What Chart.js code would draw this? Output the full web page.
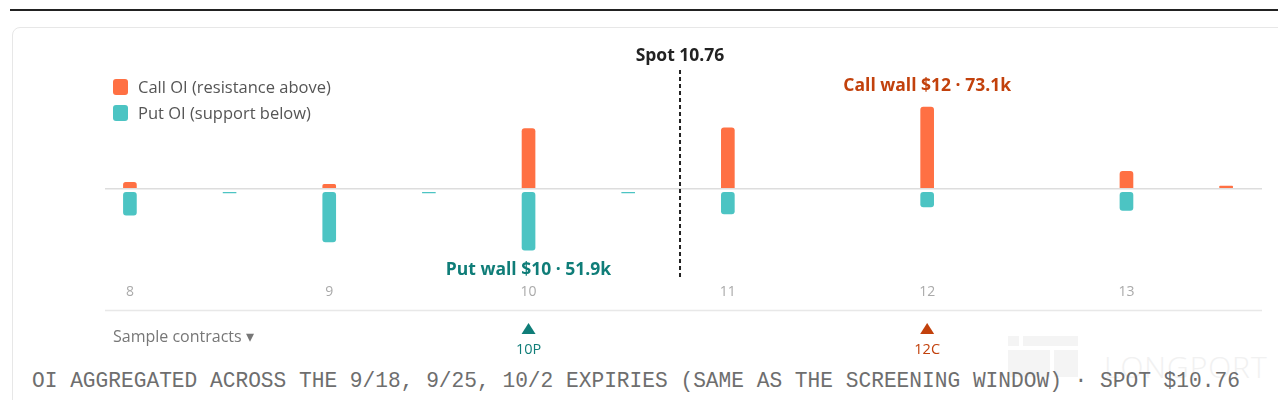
<!DOCTYPE html>
<html>
<head>
<meta charset="utf-8">
<script src="https://cdn.jsdelivr.net/npm/chart.js@4.4.1/dist/chart.umd.min.js"></script>
<style>
  html, body { margin: 0; padding: 0; background: #fff; }
  body { width: 1278px; height: 400px; position: relative; overflow: hidden; font-family: "Open Sans", Lato, sans-serif; }
  .topline { position: absolute; left: 10px; right: 0; top: 9px; height: 2px; background: #222; }
  .card { position: absolute; left: 12px; top: 27px; width: 1300px; height: 420px; border: 1px solid #e7e7e7; border-radius: 8px; box-sizing: border-box; }
  .wm { position: absolute; background: #f4f4f4; }
  .wm-text { position: absolute; left: 1104px; top: 346px; font-size: 30px; font-weight: 300; color: #f1f1f1; letter-spacing: 1px; }
  #wrap { position: absolute; left: 0; top: 0; width: 1278px; height: 365px; }
  .legend { position: absolute; left: 113px; top: 73.5px; font-size: 16.5px; color: #555; }
  .legend div { height: 26px; line-height: 20px; display: flex; align-items: center; }
  .legend span.sw { display: inline-block; width: 15px; height: 16px; border-radius: 3px; margin-right: 10px; }
  .footer { position: absolute; left: 32px; top: 369px; font-family: "Liberation Mono", monospace; font-size: 21.2px; line-height: 24px; color: #6e6e6e; white-space: nowrap; }
</style>
</head>
<body>
<div class="topline"></div>
<div class="card"></div>
<div class="wm" style="left:1008px;top:336px;width:11px;height:10px"></div>
<div class="wm" style="left:1023px;top:336px;width:55px;height:10px"></div>
<div class="wm" style="left:1008px;top:350px;width:42px;height:27px"></div>
<div class="wm" style="left:1054px;top:350px;width:24px;height:27px"></div>
<div class="wm-text">LONGPORT</div>
<div id="wrap"><canvas id="oiChart" width="1278" height="365"></canvas></div>
<div class="legend">
  <div><span class="sw" style="background:#ff7043"></span>Call OI (resistance above)</div>
  <div><span class="sw" style="background:#4cc4c3"></span>Put OI (support below)</div>
</div>
<div class="footer">OI AGGREGATED ACROSS THE 9/18, 9/25, 10/2 EXPIRIES (SAME AS THE SCREENING WINDOW) · SPOT $10.76</div>

<script>
// strikes and open interest (thousands of contracts)
const strikes = [8, 8.5, 9, 9.5, 10, 10.5, 11, 11.5, 12, 12.5, 13, 13.5];
const callOI = [5.4, 0, 3.6, 0, 53.7, 0, 54.3, 0, 73.1, 0, 15.3, 2.1];
const putOI = [20.3, 0.4, 44.4, 0.4, 51.9, 0.4, 19.2, 0, 13.1, 0, 16.2, 0];
const xTicks = [8, 9, 10, 11, 12, 13];
const SPOT = 10.76;
const sampleStrikes = [10, 12];
const sampleLabels = ['10P', '12C'];
const sampleSides = ['put', 'call'];

const CALL_COLOR = '#ff7043';
const PUT_COLOR = '#4cc4c3';
const CALL_TEXT = '#c2410c';
const PUT_TEXT = '#0f7d78';
const PUT_GAP = 3.6; // small gap under the zero line for puts
const FONT = '"Open Sans"';

const maxIdx = arr => arr.indexOf(Math.max(...arr));
const callWall = maxIdx(callOI);
const putWall = maxIdx(putOI);

const annotations = {
  id: 'annotations',
  afterDatasetsDraw(chart) {
    const { ctx, chartArea, scales: { x } } = chart;
    ctx.save();

    // spot line
    const sx = x.getPixelForValue(SPOT);
    ctx.strokeStyle = '#222';
    ctx.lineWidth = 2;
    ctx.setLineDash([4, 3]);
    ctx.beginPath();
    ctx.moveTo(sx, 70);
    ctx.lineTo(sx, 278);
    ctx.stroke();
    ctx.setLineDash([]);

    ctx.textAlign = 'center';
    ctx.textBaseline = 'middle';
    ctx.font = 'bold 17.5px ' + FONT;
    ctx.fillStyle = '#222';
    ctx.fillText('Spot ' + SPOT, sx, 56);

    ctx.fillStyle = CALL_TEXT;
    ctx.fillText('Call wall $' + strikes[callWall] + ' · ' + callOI[callWall] + 'k',
      x.getPixelForValue(strikes[callWall]), 86);
    ctx.fillStyle = PUT_TEXT;
    ctx.fillText('Put wall $' + strikes[putWall] + ' · ' + putOI[putWall] + 'k',
      x.getPixelForValue(strikes[putWall]), 270);

    // divider + sample contracts row
    ctx.strokeStyle = '#e8e8e8';
    ctx.lineWidth = 1.5;
    ctx.beginPath();
    ctx.moveTo(chartArea.left, 310.5);
    ctx.lineTo(chartArea.right, 310.5);
    ctx.stroke();

    ctx.textAlign = 'left';
    ctx.font = '16px ' + FONT;
    ctx.fillStyle = '#777';
    ctx.fillText('Sample contracts ▾', 113, 337);

    sampleStrikes.forEach((s, i) => {
      const px = x.getPixelForValue(s);
      ctx.fillStyle = sampleSides[i] === 'put' ? PUT_TEXT : CALL_TEXT;
      ctx.beginPath();
      ctx.moveTo(px, 323);
      ctx.lineTo(px + 7, 334);
      ctx.lineTo(px - 7, 334);
      ctx.closePath();
      ctx.fill();
      ctx.textAlign = 'center';
      ctx.font = '14.5px ' + FONT;
      ctx.fillText(sampleLabels[i], px, 350);
    });
    ctx.restore();
  }
};

new Chart(document.getElementById('oiChart'), {
  type: 'bar',
  data: {
    datasets: [
      {
        label: 'Call OI (resistance above)',
        data: strikes.map((s, i) => ({ x: s, y: callOI[i] > 0 ? callOI[i] : null })),
        backgroundColor: CALL_COLOR,
        borderRadius: 3,
        borderSkipped: 'start',
        barThickness: 13,
        grouped: false
      },
      {
        label: 'Put OI (support below)',
        data: strikes.map((s, i) => ({ x: s, y: putOI[i] > 0 ? [-PUT_GAP, -PUT_GAP - putOI[i]] : null })),
        backgroundColor: PUT_COLOR,
        borderRadius: 3,
        borderSkipped: false,
        barThickness: 13,
        grouped: false
      }
    ]
  },
  options: {
    responsive: false,
    animation: false,
    layout: { padding: { left: 105, right: 16, top: 40, bottom: 61.5 } },
    plugins: { legend: { display: false }, tooltip: { enabled: false } },
    scales: {
      x: {
        type: 'linear',
        offset: false,
        min: 7.875,
        max: 13.68,
        grid: { display: false, drawTicks: false },
        border: { display: false },
        afterBuildTicks: axis => { axis.ticks = xTicks.map(v => ({ value: v })); },
        ticks: { color: '#aaa', font: { family: 'Open Sans', size: 14 }, padding: 3 }
      },
      y: {
        min: -82.8,
        max: 133.2,
        border: { display: false },
        afterBuildTicks: axis => { axis.ticks = [{ value: 0 }]; },
        grid: { color: '#dddddd', lineWidth: 1.5, drawTicks: false },
        ticks: { display: false }
      }
    }
  },
  plugins: [annotations]
});
</script>
</body>
</html>
